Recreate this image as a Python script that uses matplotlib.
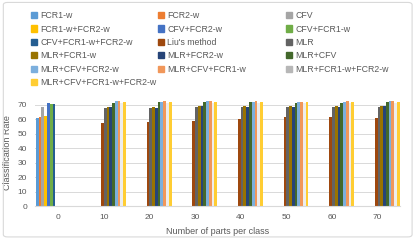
import numpy as np
import matplotlib.pyplot as plt
from matplotlib.patches import FancyBboxPatch, Patch

plt.rcParams["font.family"] = ["Liberation Sans", "DejaVu Sans"]

# ------------------------------------------------------------
# DATA
# ------------------------------------------------------------
categories = ["0", "10", "20", "30", "40", "50", "60", "70"]

series_names = [
    "FCR1-w", "FCR2-w", "CFV",
    "FCR1-w+FCR2-w", "CFV+FCR2-w", "CFV+FCR1-w",
    "CFV+FCR1-w+FCR2-w", "Liu's method", "MLR",
    "MLR+FCR1-w", "MLR+FCR2-w", "MLR+CFV",
    "MLR+CFV+FCR2-w", "MLR+CFV+FCR1-w", "MLR+FCR1-w+FCR2-w",
    "MLR+CFV+FCR1-w+FCR2-w",
]

colors = [
    "#5B9BD5", "#ED7D31", "#A5A5A5", "#FFC000", "#4472C4", "#70AD47",
    "#255E91", "#9E480E", "#636363", "#997300", "#264478", "#43682B",
    "#7CAFDD", "#F1975A", "#B7B7B7", "#FFCD33",
]

nan = np.nan
values = [
    [61.0, nan, nan, nan, nan, nan, nan, nan],      # FCR1-w
    [61.3, nan, nan, nan, nan, nan, nan, nan],      # FCR2-w
    [68.6, nan, nan, nan, nan, nan, nan, nan],      # CFV
    [62.5, nan, nan, nan, nan, nan, nan, nan],      # FCR1-w+FCR2-w
    [71.3, nan, nan, nan, nan, nan, nan, nan],      # CFV+FCR2-w
    [70.8, nan, nan, nan, nan, nan, nan, nan],      # CFV+FCR1-w
    [70.5, nan, nan, nan, nan, nan, nan, nan],      # CFV+FCR1-w+FCR2-w
    [nan, 57.4, 58.1, 58.8, 60.6, 61.3, 61.3, 61.0],  # Liu's method
    [nan, 68.0, 68.2, 68.3, 68.5, 68.8, 68.6, 68.8],  # MLR
    [nan, 68.5, 68.8, 69.0, 69.3, 69.0, 69.0, 69.5],  # MLR+FCR1-w
    [nan, 68.5, 68.0, 69.0, 68.5, 68.6, 68.8, 69.0],  # MLR+FCR2-w
    [nan, 71.5, 71.8, 72.0, 71.8, 71.5, 71.6, 71.8],  # MLR+CFV
    [nan, 72.5, 72.2, 72.5, 72.2, 72.0, 72.2, 72.5],  # MLR+CFV+FCR2-w
    [nan, 72.8, 72.8, 72.5, 72.5, 72.3, 72.6, 72.8],  # MLR+CFV+FCR1-w
    [nan, 71.5, 71.5, 71.5, 71.5, 71.5, 71.5, 71.5],  # MLR+FCR1-w+FCR2-w
    [nan, 71.8, 71.8, 71.8, 72.0, 71.8, 71.8, 71.8],  # MLR+CFV+FCR1-w+FCR2-w
]

# ------------------------------------------------------------
# PLOT
# ------------------------------------------------------------
fig = plt.figure(figsize=(4.15, 2.43), dpi=100)
ax = fig.add_axes([0.085, 0.152, 0.88, 0.44])

x = np.arange(len(categories))
n = len(series_names)
group_w = 0.97
bw = group_w / n

for i, (name, col, vals) in enumerate(zip(series_names, colors, values)):
    pos = x - group_w / 2 + bw * (i + 0.5)
    # the light grey series is barely visible in the original
    bar_col = "#EDEDED" if name == "MLR+FCR1-w+FCR2-w" else col
    ax.bar(pos, vals, width=bw, color=bar_col, linewidth=0)

ax.set_xlim(-0.5, len(categories) - 0.5)
ax.set_ylim(0, 74)
ax.set_yticks(range(0, 71, 10))
ax.set_xticks(x)
ax.set_xticklabels(categories)
ax.tick_params(labelsize=6, colors="#595959", length=0, pad=6)
ax.yaxis.grid(True, color="#D9D9D9", linewidth=0.7)
ax.set_axisbelow(True)
for s in ["top", "right", "left"]:
    ax.spines[s].set_visible(False)
ax.spines["bottom"].set_color("#D9D9D9")

ax.set_ylabel("Classification Rate", fontsize=6.5, color="#595959", labelpad=4)
ax.set_xlabel("Number of parts per class", fontsize=6.5, color="#595959", labelpad=4)

# legend: three fixed columns, filled row by row
ncol = 3
col_x = [0.068, 0.374, 0.683]
for c in range(ncol):
    idx = list(range(c, n, ncol))
    leg = fig.legend(
        [Patch(color=colors[k]) for k in idx], [series_names[k] for k in idx],
        loc="upper left", bbox_to_anchor=(col_x[c], 0.965),
        frameon=False, fontsize=6.3, handlelength=0.7, handleheight=0.7,
        handletextpad=0.4, labelspacing=0.5, borderaxespad=0, borderpad=0.3,
    )
    for t in leg.get_texts():
        t.set_color("#595959")

# chart border
fig.patches.append(FancyBboxPatch(
    (0.008, 0.025), 0.985, 0.965, boxstyle="round,pad=0,rounding_size=0.01",
    transform=fig.transFigure, fill=False, edgecolor="#D9D9D9", linewidth=0.8,
))

fig.savefig("out.png", dpi=100)
